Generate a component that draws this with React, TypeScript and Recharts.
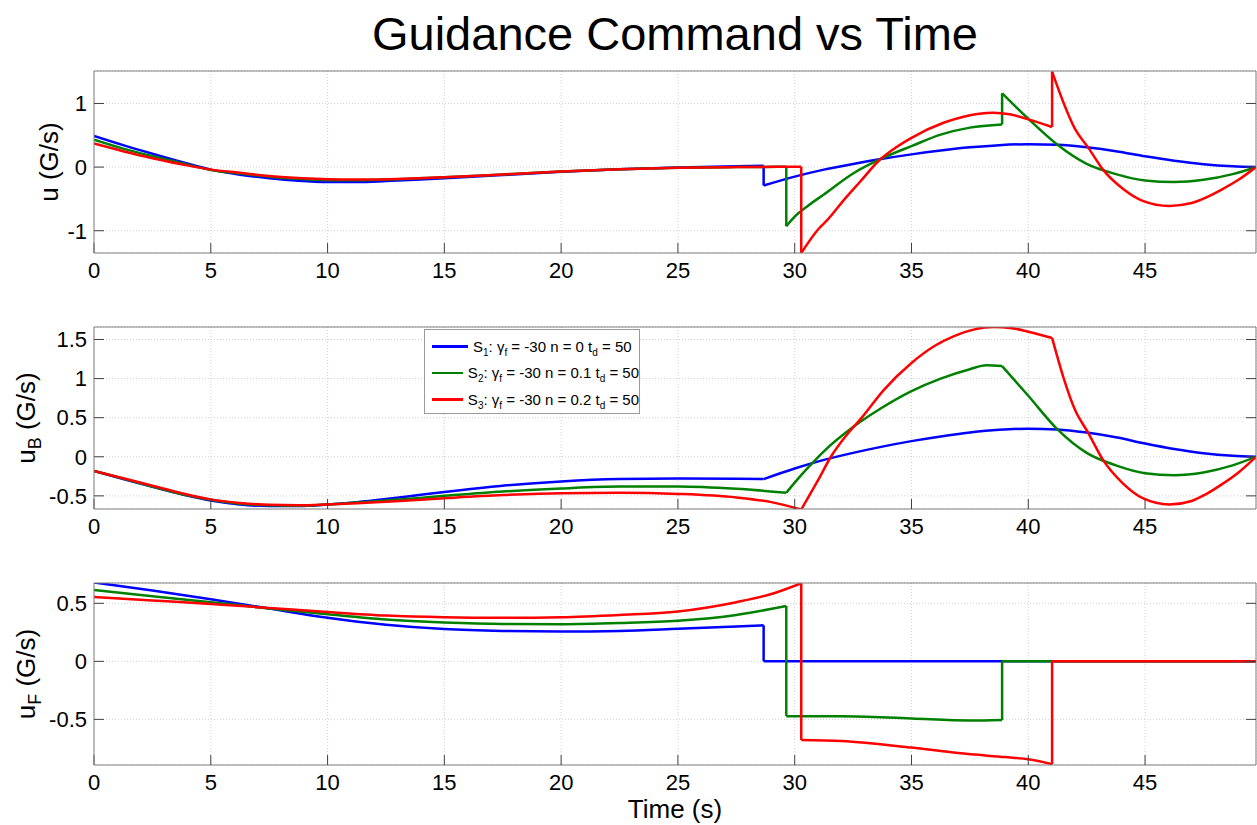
import { LineChart, Line, XAxis, YAxis, CartesianGrid, Legend } from "recharts";

const FONT = '"Liberation Sans", Arial, Helvetica, sans-serif';
const W = 1257;

const timeTicks = [0, 5, 10, 15, 20, 25, 30, 35, 40, 45];
const timeDomain = [0, 49.75];

const seriesColors = ["#0000ff", "#008000", "#ff0000"];
const seriesN = ["0", "0.1", "0.2"];
// switching times of each strategy (jumps / kinks in the commands)
const switchTimes = [[28.67], [29.64, 38.88], [30.28, 41.02]];

// u (G/s)
const uBlueT = [0, 1.25, 2.5, 3.75, 5, 6.25, 7.5, 8.75, 10, 11.25, 12.5, 13.75, 15, 17.5, 20, 22.5, 25, 27.5, 28.67, 28.67, 30, 31.25, 32.5, 33.75, 35, 36.25, 37.5, 38.75, 40, 41.25, 42.5, 43.75, 45, 46.25, 47.5, 48.75, 49.75];
const uBlue = [0.49, 0.345, 0.21, 0.08, -0.04, -0.12, -0.175, -0.215, -0.235, -0.235, -0.22, -0.2, -0.175, -0.125, -0.075, -0.035, -0.005, 0.015, 0.02, -0.29, -0.15, -0.04, 0.05, 0.13, 0.2, 0.26, 0.31, 0.345, 0.36, 0.35, 0.31, 0.25, 0.17, 0.1, 0.045, 0.012, 0];
const uGreenT = [0, 1.25, 2.5, 3.75, 5, 6.25, 7.5, 8.75, 10, 11.25, 12.5, 15, 17.5, 20, 22.5, 25, 27.5, 29.64, 29.64, 30, 30.6, 31.25, 32.5, 33.75, 35, 36.25, 37.5, 38.88, 38.88, 40, 41.25, 42.5, 43.75, 45, 46.25, 47.5, 48.75, 49.75];
const uGreen = [0.43, 0.29, 0.17, 0.06, -0.045, -0.1, -0.15, -0.185, -0.205, -0.205, -0.195, -0.16, -0.115, -0.07, -0.035, -0.01, 0, 0.005, -0.93, -0.78, -0.6, -0.43, -0.1, 0.14, 0.33, 0.51, 0.62, 0.67, 1.16, 0.76, 0.35, 0.05, -0.11, -0.21, -0.235, -0.2, -0.11, 0];
const uRedT = [0, 1.25, 2.5, 3.75, 5, 6.25, 7.5, 8.75, 10, 11.25, 12.5, 15, 17.5, 20, 22.5, 25, 27.5, 30.28, 30.28, 31, 31.4, 32.1, 32.8, 33.6, 34.3, 35, 36.4, 37.9, 38.5, 39.2, 40, 41.02, 41.02, 41.5, 42, 42.56, 43.2, 44.05, 44.9, 46.04, 47, 47.6, 48.3, 49, 49.75];
const uRed = [0.37, 0.25, 0.14, 0.045, -0.04, -0.09, -0.14, -0.17, -0.19, -0.195, -0.19, -0.16, -0.115, -0.07, -0.035, -0.01, 0, 0.005, -1.35, -0.98, -0.83, -0.52, -0.23, 0.1, 0.3, 0.46, 0.7, 0.84, 0.855, 0.83, 0.75, 0.63, 1.5, 1.02, 0.6, 0.31, -0.04, -0.34, -0.53, -0.61, -0.565, -0.48, -0.35, -0.2, 0];

// u_B (G/s)
const uBBlueT = [0, 1.25, 2.5, 3.75, 5, 6.25, 7.5, 8.75, 10, 11.25, 12.5, 13.75, 15, 17.5, 20, 22.5, 25, 27.5, 28.67, 30, 31.25, 32.5, 33.75, 35, 36.25, 37.5, 38.75, 40, 41.25, 42.5, 43.75, 45, 46.25, 47.5, 48.75, 49.75];
const uBBlue = [-0.18, -0.285, -0.385, -0.48, -0.56, -0.61, -0.63, -0.63, -0.61, -0.58, -0.54, -0.495, -0.45, -0.37, -0.315, -0.285, -0.278, -0.28, -0.285, -0.15, -0.04, 0.05, 0.13, 0.2, 0.26, 0.31, 0.345, 0.36, 0.35, 0.31, 0.25, 0.17, 0.1, 0.045, 0.012, 0];
const uBGreenT = [0, 1.25, 2.5, 3.75, 5, 6.25, 7.5, 8.75, 10, 11.25, 12.5, 15, 17.5, 20, 22.5, 25, 27.5, 29.64, 30, 30.6, 31.25, 32.5, 33.75, 35, 36.25, 37.5, 38.2, 38.88, 40, 41.25, 42.5, 43.75, 45, 46.25, 47.5, 48.75, 49.75];
const uBGreen = [-0.18, -0.28, -0.38, -0.475, -0.55, -0.6, -0.62, -0.625, -0.61, -0.585, -0.56, -0.5, -0.445, -0.405, -0.38, -0.38, -0.41, -0.46, -0.33, -0.13, 0.07, 0.38, 0.63, 0.84, 1.0, 1.12, 1.17, 1.16, 0.78, 0.35, 0.05, -0.11, -0.21, -0.235, -0.2, -0.11, 0];
const uBRedT = [0, 1.25, 2.5, 3.75, 5, 6.25, 7.5, 8.75, 10, 11.25, 12.5, 15, 17.5, 20, 22.5, 25, 27.5, 29, 30.28, 31, 31.55, 32.2, 32.9, 33.8, 35, 36, 36.8, 37.7, 38.5, 39.3, 40, 41.02, 41.5, 42, 42.56, 43.2, 44.05, 44.9, 46.04, 47, 47.6, 48.3, 49, 49.75];
const uBRed = [-0.18, -0.275, -0.37, -0.465, -0.545, -0.59, -0.615, -0.62, -0.61, -0.595, -0.575, -0.53, -0.49, -0.465, -0.46, -0.475, -0.52, -0.58, -0.675, -0.3, 0, 0.27, 0.51, 0.85, 1.2, 1.42, 1.54, 1.63, 1.66, 1.645, 1.6, 1.52, 1.02, 0.6, 0.31, -0.04, -0.34, -0.53, -0.61, -0.565, -0.48, -0.35, -0.2, 0];

// u_F (G/s)
const uFBlueT = [0, 2.5, 5, 7.5, 10, 12.5, 15, 17.5, 20, 22.5, 25, 27.5, 28.67, 28.67, 49.75];
const uFBlue = [0.68, 0.61, 0.535, 0.455, 0.375, 0.315, 0.278, 0.262, 0.257, 0.262, 0.28, 0.3, 0.31, 0, 0];
const uFGreenT = [0, 2.5, 5, 7.5, 10, 12.5, 15, 17.5, 20, 22.5, 25, 27.5, 29.64, 29.64, 32, 35, 37.5, 38.88, 38.88, 49.75];
const uFGreen = [0.615, 0.56, 0.51, 0.455, 0.405, 0.36, 0.335, 0.322, 0.32, 0.33, 0.35, 0.4, 0.477, -0.472, -0.472, -0.493, -0.51, -0.505, 0, 0];
const uFRedT = [0, 2.5, 5, 7.5, 10, 12.5, 15, 17.5, 20, 22.5, 25, 27.5, 29, 30.28, 30.28, 32, 35, 37, 39, 40, 41.02, 41.02, 49.75];
const uFRed = [0.555, 0.525, 0.495, 0.46, 0.425, 0.395, 0.38, 0.375, 0.38, 0.4, 0.43, 0.51, 0.58, 0.673, -0.677, -0.686, -0.743, -0.79, -0.825, -0.843, -0.886, 0, 0];

const pts = (ts: number[], vs: number[]) => ts.map((t, i) => ({ t, v: vs[i] }));

// cut a series at its switching times so jumps and kinks stay sharp
const pieces = (d: { t: number; v: number }[], breaks: number[]) => {
  const out: { t: number; v: number }[][] = [];
  let cur: { t: number; v: number }[] = [];
  d.forEach((p, i) => {
    cur.push(p);
    if (breaks.includes(p.t) && i < d.length - 1) {
      out.push(cur);
      cur = [p];
    }
  });
  out.push(cur);
  return out;
};

const noTick = () => <g />;

const YLabel = ({ viewBox, main, sub, dx }: any) => {
  const x = viewBox.x + dx;
  const y = viewBox.y + viewBox.height / 2;
  return (
    <text x={x} y={y} transform={`rotate(-90 ${x} ${y})`} textAnchor="middle" fontSize={26} fill="#000">
      {main}
      {sub ? (
        <>
          <tspan dy={6} fontSize={18}>{sub}</tspan>
          <tspan dy={-6}> (G/s)</tspan>
        </>
      ) : (
        <tspan> (G/s)</tspan>
      )}
    </text>
  );
};

const TimeLabel = ({ viewBox }: any) => (
  <text x={viewBox.x + viewBox.width / 2} y={viewBox.y + 53} textAnchor="middle" fontSize={26} fill="#000">
    Time (s)
  </text>
);

const LegendBox = () => (
  <div
    style={{
      boxSizing: "border-box",
      width: 216,
      height: 85,
      border: "1px solid #9a9a9a",
      background: "#fff",
      paddingTop: 3,
      fontFamily: FONT,
    }}
  >
    {seriesColors.map((c, i) => (
      <div key={c} style={{ display: "flex", alignItems: "center", height: 26.5 }}>
        <div style={{ width: 36, height: 2.5, background: c, marginLeft: 7, marginRight: 5 }} />
        <span style={{ fontSize: 15, whiteSpace: "nowrap", color: "#000", lineHeight: "15px" }}>
          S<sub style={{ fontSize: 10, lineHeight: 0 }}>{i + 1}</sub>: γ
          <sub style={{ fontSize: 10, lineHeight: 0 }}>f</sub> = -30 n = {seriesN[i]} t
          <sub style={{ fontSize: 10, lineHeight: 0 }}>d</sub> = 50
        </span>
      </div>
    ))}
  </div>
);

const panels = [
  {
    top: 66, height: 227, xH: 40,
    yDomain: [-1.35, 1.51], yTicks: [-1, 0, 1],
    main: "u", sub: "", dx: 58,
    series: [pts(uBlueT, uBlue), pts(uGreenT, uGreen), pts(uRedT, uRed)],
  },
  {
    top: 322, height: 227, xH: 40,
    yDomain: [-0.668, 1.66], yTicks: [-0.5, 0, 0.5, 1, 1.5],
    main: "u", sub: "B", dx: 35, legend: true,
    series: [pts(uBBlueT, uBBlue), pts(uBGreenT, uBGreen), pts(uBRedT, uBRed)],
  },
  {
    top: 578, height: 247, xH: 60,
    yDomain: [-0.893, 0.675], yTicks: [-0.5, 0, 0.5],
    main: "u", sub: "F", dx: 35, time: true,
    series: [pts(uFBlueT, uFBlue), pts(uFGreenT, uFGreen), pts(uFRedT, uFRed)],
  },
];

const axisColor = "#808080";
const tickLine = { stroke: "#404040" };
const tickFont = { fontSize: 22, fill: "#000" };

const Panel = ({ p }: any) => (
  <div style={{ position: "absolute", left: 0, top: p.top }}>
    <LineChart width={W} height={p.height} margin={{ top: 4, right: 0, bottom: 0, left: 0 }}>
      <CartesianGrid stroke="#d0d0d0" strokeDasharray="1 2" />
      <XAxis
        type="number" dataKey="t" domain={timeDomain} ticks={timeTicks} allowDataOverflow interval={0}
        height={p.xH} tickSize={-10} tickMargin={19} tick={tickFont} stroke={axisColor} tickLine={tickLine}
        label={p.time ? <TimeLabel /> : undefined}
      />
      <XAxis
        xAxisId="top" orientation="top" type="number" domain={timeDomain} ticks={timeTicks} allowDataOverflow
        interval={0} height={1} tickSize={-10} tick={noTick} stroke={axisColor} tickLine={tickLine}
      />
      <YAxis
        type="number" domain={p.yDomain} ticks={p.yTicks} allowDataOverflow interval={0} width={94}
        tickSize={-10} tickMargin={17} tick={tickFont} stroke={axisColor} tickLine={tickLine}
        label={<YLabel main={p.main} sub={p.sub} dx={p.dx} />}
      />
      <YAxis
        yAxisId="r" orientation="right" type="number" domain={p.yDomain} ticks={p.yTicks} allowDataOverflow
        interval={0} width={1} tickSize={-10} tick={noTick} stroke={axisColor} tickLine={tickLine}
      />
      {p.series.map((d: any, i: number) =>
        pieces(d, switchTimes[i]).map((seg, j) => (
          <Line
            key={`${i}-${j}`} data={seg} dataKey="v" type="monotone" stroke={seriesColors[i]} strokeWidth={2.5}
            dot={false} activeDot={false} isAnimationActive={false}
          />
        ))
      )}
      {p.legend ? (
        <Legend
          layout="horizontal" verticalAlign="middle" align="center" content={LegendBox}
          wrapperStyle={{ left: 424, top: 7, width: 216, height: 85 }}
        />
      ) : null}
    </LineChart>
  </div>
);

export default function App() {
  return (
    <div style={{ position: "absolute", left: 0, top: 0, width: W, height: 825, background: "#fff", fontFamily: FONT }}>
      <div
        style={{
          position: "absolute", left: 94, top: 11, width: 1162, textAlign: "center",
          fontSize: 47, lineHeight: "46px", color: "#000",
        }}
      >
        Guidance Command vs Time
      </div>
      {panels.map((p, i) => (
        <Panel key={i} p={p} />
      ))}
    </div>
  );
}
